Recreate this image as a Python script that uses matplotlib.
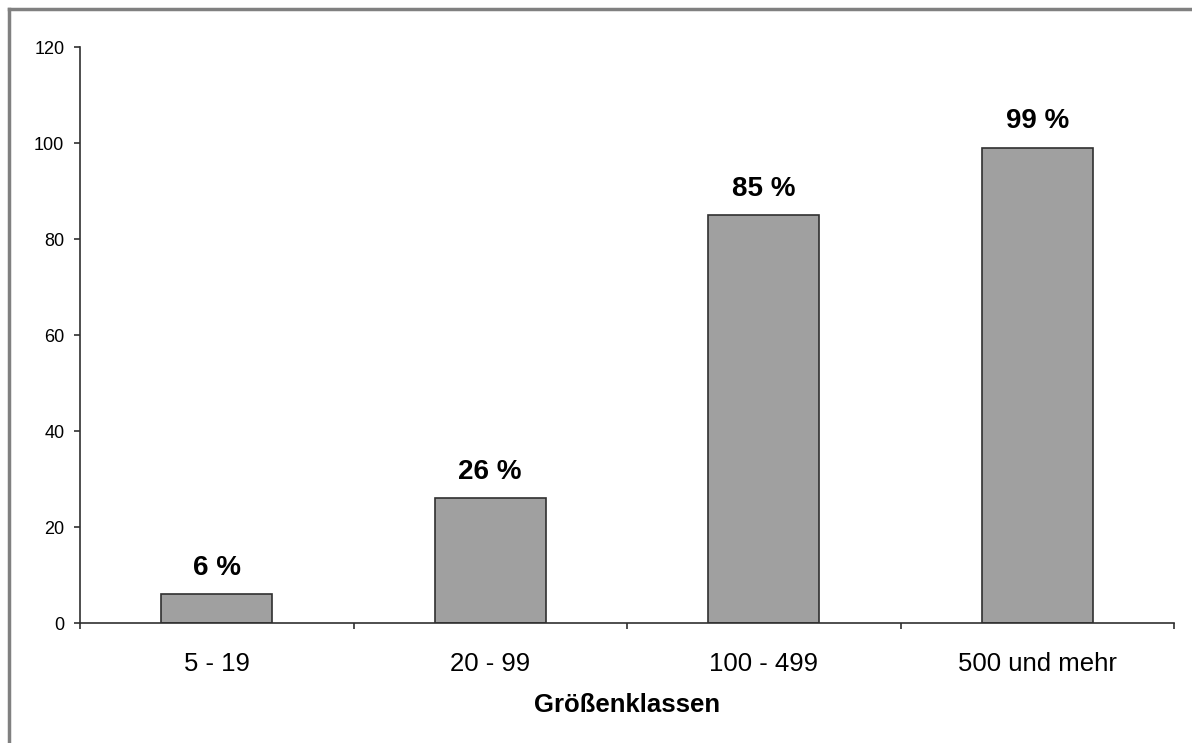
import matplotlib
matplotlib.use('Agg')
import matplotlib.pyplot as plt
from matplotlib.lines import Line2D

plt.rcParams['font.family'] = ['Liberation Sans', 'DejaVu Sans']

categories = ['5 - 19', '20 - 99', '100 - 499', '500 und mehr']
values = [6, 26, 85, 99]
bar_labels = ['6 %', '26 %', '85 %', '99 %']
yticks = [0, 20, 40, 60, 80, 100, 120]

fig = plt.figure(figsize=(11.92, 7.43), dpi=100)
ax = fig.add_axes([80 / 1192, 120 / 743, 1094 / 1192, 576 / 743])

x = list(range(len(categories)))
ax.bar(x, values, width=0.405, color='#a0a0a0', edgecolor='#303030', linewidth=1.2, zorder=2)

for xi, v, lab in zip(x, values, bar_labels):
    ax.annotate(lab, (xi, v), xytext=(0, 14), textcoords='offset points',
                ha='center', va='baseline', fontsize=20, fontweight='bold')

ax.set_xlim(-0.5, len(categories) - 0.5)
ax.set_ylim(0, 120)
ax.set_yticks(yticks)
ax.set_xticks(x)
ax.set_xticklabels(categories, fontsize=18.5)
ax.set_xticks([i - 0.5 for i in range(len(categories) + 1)], minor=True)
ax.tick_params(axis='x', which='major', length=0, pad=21)
ax.tick_params(axis='x', which='minor', length=4, width=1.2, color='#303030', direction='out')
ax.tick_params(axis='y', length=4.3, width=1.2, color='#303030', pad=7, labelsize=13)

for s in ['top', 'right']:
    ax.spines[s].set_visible(False)
for s in ['left', 'bottom']:
    ax.spines[s].set_color('#303030')
    ax.spines[s].set_linewidth(1.2)

ax.set_xlabel('Größenklassen', fontsize=18.5, fontweight='bold', labelpad=12)

# frame around the chart area (only top and left edge fall inside the image)
fx = 9 / 1192
fy = 1 - 9 / 743
fig.add_artist(Line2D([fx, 1], [fy, fy], transform=fig.transFigure, color='#808080', linewidth=2.5))
fig.add_artist(Line2D([fx, fx], [0, fy], transform=fig.transFigure, color='#808080', linewidth=2.5))

fig.savefig('out.png', dpi=100)
